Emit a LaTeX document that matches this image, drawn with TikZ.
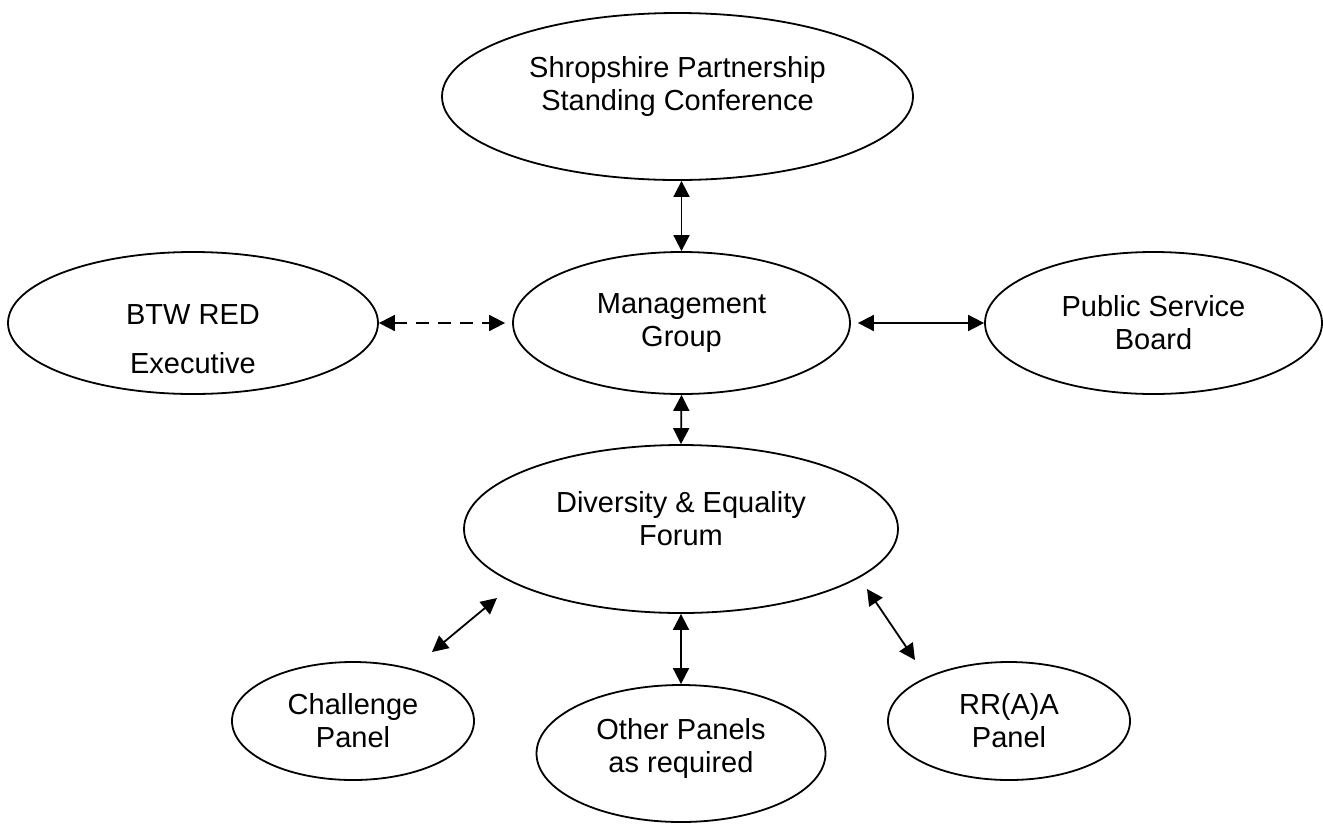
\documentclass[tikz,border=0pt]{standalone}
\usepackage{fontspec}
\setmainfont{Liberation Sans}
\usetikzlibrary{shapes.geometric,arrows.meta}
\begin{document}
\begin{tikzpicture}[x=1pt,y=-1pt,line join=round,>={Triangle[length=16pt,width=16pt]},
	font=\fontsize{29}{33}\selectfont,
	oval/.style={ellipse,draw,line width=1.8pt,inner sep=0pt},
	link/.style={<->,line width=1.8pt},
	every label/.style={align=center}]
	\useasboundingbox (0,0) rectangle (1323,823);
	% ovals
	\node[oval,minimum width=471pt,minimum height=167pt,label={[yshift=10pt]center:Shropshire Partnership\\Standing Conference}] (spsc) at (677.5,96.5) {};
	\node[oval,minimum width=370pt,minimum height=142pt,label={[yshift=-16pt]center:BTW RED\\[16pt]Executive}] (btw) at (193,323) {};
	\node[oval,minimum width=337pt,minimum height=142pt,align=center] (mgmt) at (681.5,323) {Management\\Group};
	\node[oval,minimum width=337pt,minimum height=142pt,align=center] (psb) at (1153.5,323) {Public Service\\Board};
	\node[oval,minimum width=434pt,minimum height=168pt,label={[yshift=10pt]center:Diversity \& Equality\\Forum}] (def) at (681,529) {};
	\node[oval,minimum width=242pt,minimum height=118pt,align=center] (chal) at (353,721) {Challenge\\Panel};
	\node[oval,minimum width=289pt,minimum height=137pt,label={[yshift=5pt]center:Other Panels\\as required}] (other) at (681,753.5) {};
	\node[oval,minimum width=242pt,minimum height=118pt,align=center] (rraa) at (1009,721) {RR(A)A\\Panel};
	% free arrow ends
	\coordinate (chalA) at (497,598);
	\coordinate (chalB) at (432,652);
	\coordinate (rraaA) at (867,589);
	\coordinate (rraaB) at (915,660);
	% arrows
	\draw[link] (mgmt.north) -- (mgmt.north |- spsc.south);
	\draw[link,dash pattern=on 13pt off 9pt,shorten >=7pt] (btw) -- (mgmt);
	\draw[link,shorten <=7pt] (mgmt) -- (psb);
	\draw[link] (mgmt.south) -- (def.north);
	\draw[link] (def.south) -- (other.north);
	\draw[link] (chalA) -- (chalB);
	\draw[link] (rraaA) -- (rraaB);
\end{tikzpicture}
\end{document}
